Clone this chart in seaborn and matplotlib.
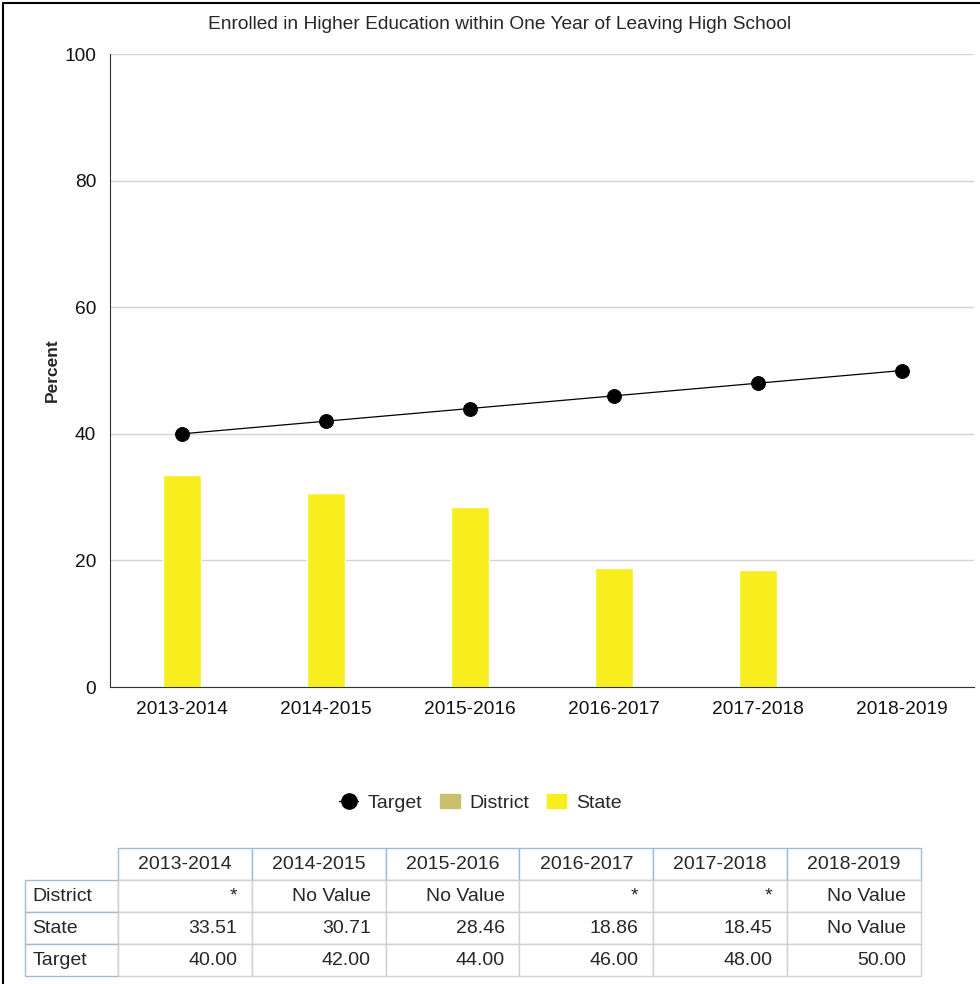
import pandas as pd
import numpy as np
import matplotlib.pyplot as plt
import seaborn as sns
from matplotlib.lines import Line2D
from matplotlib.patches import Patch

years = ['2013-2014', '2014-2015', '2015-2016', '2016-2017', '2017-2018', '2018-2019']
state = [33.51, 30.71, 28.46, 18.86, 18.45, np.nan]
target = [40.00, 42.00, 44.00, 46.00, 48.00, 50.00]
district_text = ['*', 'No Value', 'No Value', '*', '*', 'No Value']
state_text = ['33.51', '30.71', '28.46', '18.86', '18.45', 'No Value']
target_text = ['40.00', '42.00', '44.00', '46.00', '48.00', '50.00']

yellow = '#f8ee1e'
olive = '#c9bf6f'

sns.set_style('white')
plt.rcParams['font.family'] = ['Liberation Sans', 'DejaVu Sans']

df = pd.DataFrame({'year': years, 'State': state, 'Target': target})

fig = plt.figure(figsize=(9.8, 9.84), dpi=100)
ax = fig.add_axes([0.1122, 0.3018, 0.8817, 0.6433])

sns.barplot(data=df, x='year', y='State', order=years, color=yellow,
            saturation=1, width=0.27, ax=ax)
sns.pointplot(data=df, x='year', y='Target', order=years, color='black',
              markers='o', markersize=10, linewidth=0.9, ax=ax)

ax.set_ylim(0, 100)
ax.set_xlim(-0.5, 5.5)
ax.set_yticks([0, 20, 40, 60, 80, 100])
ax.yaxis.grid(True, color='#d4d4d4', linewidth=1)
ax.set_axisbelow(True)
ax.tick_params(axis='both', length=0, labelsize=13.8, colors='#111111')
ax.tick_params(axis='y', pad=10)
ax.tick_params(axis='x', pad=10)
for s in ['top', 'right']:
    ax.spines[s].set_visible(False)
ax.spines['left'].set_color('#333333')
ax.spines['bottom'].set_color('#333333')
ax.set_xlabel('')
ax.set_ylabel('Percent', fontsize=12.5, fontweight='bold', labelpad=3)
fig.text(0.51, 0.975, 'Enrolled in Higher Education within One Year of Leaving High School',
         ha='center', va='center', fontsize=13.8)

handles = [Line2D([], [], color='black', marker='o', markersize=11, linewidth=1),
           Patch(color=olive), Patch(color=yellow)]
fig.legend(handles, ['Target', 'District', 'State'], loc='center',
           bbox_to_anchor=(0.49, 0.184), ncol=3, frameon=False, fontsize=14,
           handlelength=1.0, handletextpad=0.5, columnspacing=0.9)

# data table
tax = fig.add_axes([0.0255, 0.008, 0.9143, 0.13])
tax.axis('off')
cells = [[''] + years,
         ['District'] + district_text,
         ['State'] + state_text,
         ['Target'] + target_text]
col_w = [93 / 896] + [134 / 896] * 6
tbl = tax.table(cellText=cells, colWidths=col_w, loc='center', bbox=[0, 0, 1, 1])
tbl.auto_set_font_size(False)
tbl.set_fontsize(14)
for (r, c), cell in tbl.get_celld().items():
    cell.set_linewidth(1)
    if r == 0 and c == 0:
        cell.set_visible(False)
    elif r == 0:
        cell.set_edgecolor('#9fbad6')
        cell.get_text().set_ha('center')
        cell.set_zorder(3)
    elif c == 0:
        cell.set_edgecolor('#9fbad6')
        cell.get_text().set_ha('left')
        cell.PAD = 0.08
        cell.set_zorder(3)
    else:
        cell.set_edgecolor('#d0d0d0')
        cell.get_text().set_ha('right')
        cell.PAD = 0.11

fig.add_artist(Line2D([0.003, 0.003], [0, 0.997], color='black', linewidth=1.5,
                      transform=fig.transFigure))
fig.add_artist(Line2D([0.003, 1], [0.997, 0.997], color='black', linewidth=1.5,
                      transform=fig.transFigure))

fig.savefig('out.png', dpi=100)
